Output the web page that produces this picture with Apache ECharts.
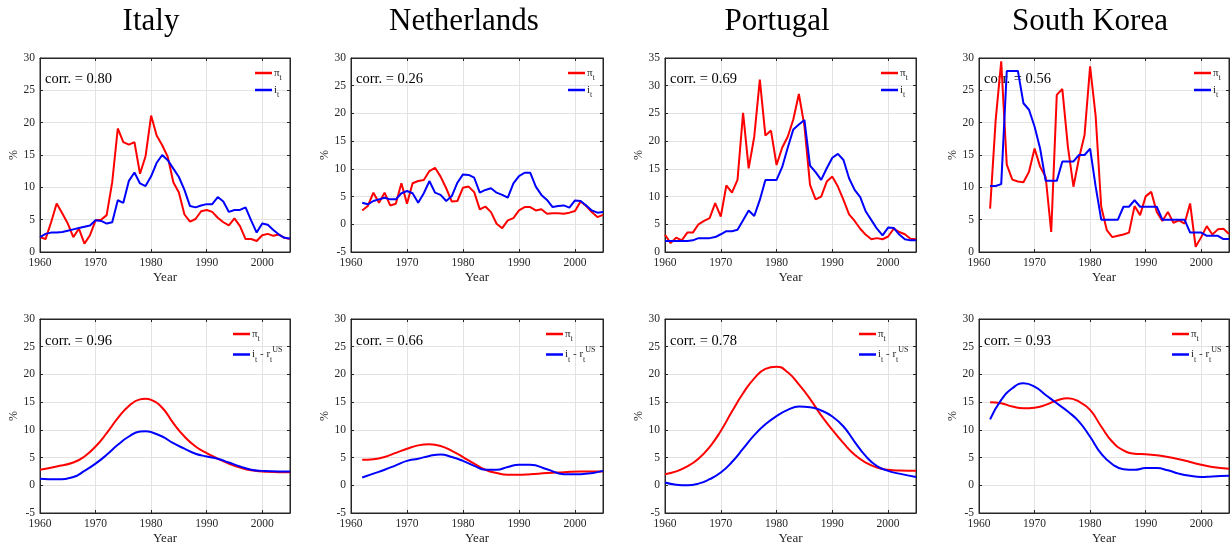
<!DOCTYPE html>
<html>
<head>
<meta charset="utf-8">
<script src="https://cdn.jsdelivr.net/npm/echarts@6/dist/echarts.min.js"></script>
<style>
  html, body { margin: 0; padding: 0; background: #fff; }
  #chart-panel { width: 1230px; height: 546px; }
</style>
</head>
<body>
<div id="chart-panel"></div>
<script>
// countries, one column each
var countries = ['Italy', 'Netherlands', 'Portugal', 'South Korea'];
var corrTop = ['0.80', '0.26', '0.69', '0.56'];
var corrBottom = ['0.96', '0.66', '0.78', '0.93'];
var startYear = [1960, 1962, 1960, 1962];
var topYMin = [0, -5, 0, 0];
var topYMax = [30, 30, 35, 30];

// top row: annual inflation (pi) and nominal rate (i)
var itPi = [2.3, 2.0, 4.6, 7.5, 6.0, 4.4, 2.3, 3.6, 1.3, 2.6,
            4.9, 5.0, 5.7, 10.8, 19.1, 17.0, 16.6, 17.0, 12.1, 14.8,
            21.1, 18.0, 16.5, 14.7, 10.8, 9.2, 5.8, 4.7, 5.1, 6.3,
            6.5, 6.2, 5.3, 4.6, 4.1, 5.2, 4.0, 2.0, 2.0, 1.7,
            2.6, 2.8, 2.5, 2.7, 2.2, 2.0];
var itI = [2.3, 2.8, 3.0, 3.0, 3.1, 3.3, 3.5, 3.7, 3.9, 4.1,
           4.9, 4.8, 4.4, 4.6, 8.0, 7.6, 11.0, 12.3, 10.6, 10.2,
           11.7, 13.8, 15.0, 14.2, 12.9, 11.6, 9.6, 7.1, 6.9, 7.2,
           7.4, 7.4, 8.5, 7.8, 6.2, 6.5, 6.5, 6.9, 4.9, 3.0,
           4.4, 4.2, 3.4, 2.7, 2.2, 2.1];
var nlPi = [2.5, 3.3, 5.7, 3.9, 5.7, 3.4, 3.7, 7.4,
            3.7, 7.4, 7.8, 8.0, 9.6, 10.2, 8.6, 6.5, 4.1, 4.2,
            6.6, 6.8, 5.8, 2.7, 3.2, 2.2, 0.1, -0.7, 0.7, 1.1,
            2.5, 3.1, 3.1, 2.5, 2.7, 1.9, 2.0, 2.0, 1.9, 2.1,
            2.4, 4.1, 3.3, 2.2, 1.3, 1.7];
var nlI = [3.9, 3.6, 4.2, 4.5, 4.8, 4.5, 4.5, 5.6,
           6.0, 5.6, 3.9, 5.6, 7.8, 5.7, 5.3, 4.2, 5.1, 7.5,
           9.0, 8.9, 8.4, 5.7, 6.2, 6.5, 5.7, 5.3, 4.8, 7.4,
           8.7, 9.3, 9.3, 6.8, 5.3, 4.4, 3.1, 3.3, 3.4, 3.0,
           4.3, 4.2, 3.4, 2.5, 2.1, 2.2];
var ptPi = [3.1, 1.6, 2.6, 2.1, 3.5, 3.5, 5.0, 5.6, 6.1, 8.8,
            6.4, 12.0, 10.7, 13.0, 25.1, 15.1, 20.8, 31.1, 21.0, 21.9,
            15.7, 18.8, 20.8, 23.9, 28.5, 22.7, 12.1, 9.5, 10.0, 12.7,
            13.6, 11.8, 9.4, 6.8, 5.6, 4.2, 3.1, 2.3, 2.5, 2.3,
            2.8, 4.2, 3.6, 3.2, 2.4, 2.3];
var ptI = [2.0, 2.0, 2.0, 2.0, 2.0, 2.1, 2.5, 2.5, 2.5, 2.7,
           3.2, 3.75, 3.75, 4.0, 5.75, 7.5, 6.5, 9.4, 13.0, 13.0,
           13.0, 15.3, 18.8, 22.1, 23.0, 23.8, 15.6, 14.4, 13.0, 15.1,
           17.0, 17.7, 16.6, 13.3, 11.2, 9.9, 7.3, 5.75, 4.2, 3.0,
           4.4, 4.35, 3.15, 2.3, 2.1, 2.1];
var krPi = [6.7, 20.4, 29.5, 13.5, 11.2, 10.9, 10.8, 12.4,
            16.0, 13.2, 11.6, 3.1, 24.3, 25.2, 16.3, 10.1, 14.5, 18.1,
            28.7, 21.0, 7.0, 3.4, 2.3, 2.5, 2.7, 3.0, 7.1, 5.7,
            8.6, 9.3, 6.2, 4.8, 6.2, 4.5, 4.9, 4.4, 7.5, 0.8,
            2.3, 4.0, 2.7, 3.5, 3.6, 2.8];
var krI = [10.2, 10.2, 10.5, 28.0, 28.0, 28.0, 23.0, 22.0,
           19.4, 16.0, 11.0, 11.0, 11.0, 14.0, 14.0, 14.0, 15.0, 15.0,
           16.0, 10.1, 5.0, 5.0, 5.0, 5.0, 7.0, 7.0, 8.0, 7.0,
           7.0, 7.0, 7.0, 5.0, 5.0, 5.0, 5.0, 5.0, 3.0, 3.0,
           3.0, 2.5, 2.5, 2.5, 2.0, 2.0];

// bottom row: smoothed trends, read at selected years
var itTrendYears = [1960, 1963, 1966, 1968, 1970, 1972, 1974, 1976, 1978, 1979, 1980, 1982, 1984, 1986, 1988, 1990, 1992, 1994, 1996, 1998, 2000, 2003, 2005];
var itTrendPi = [2.8, 3.4, 4.1, 5.2, 7.0, 9.4, 12.1, 14.3, 15.5, 15.6, 15.4, 14.0, 11.2, 8.8, 7.0, 5.8, 4.8, 3.9, 3.2, 2.7, 2.5, 2.35, 2.35];
var itTrendI = [1.2, 1.1, 1.5, 2.6, 3.9, 5.5, 7.3, 8.8, 9.7, 9.75, 9.6, 8.8, 7.6, 6.6, 5.7, 5.2, 4.8, 4.1, 3.4, 2.8, 2.6, 2.5, 2.5];

var nlTrendYears = [1962, 1964, 1966, 1968, 1970, 1972, 1974, 1976, 1978, 1980, 1982, 1984, 1986, 1988, 1990, 1992, 1995, 1998, 2001, 2005];
var nlTrendPi = [4.6, 4.7, 5.1, 5.85, 6.6, 7.2, 7.4, 7.1, 6.2, 5.1, 3.9, 2.8, 2.2, 1.9, 1.9, 2.0, 2.2, 2.35, 2.5, 2.5];
var nlTrendI = [1.4, 2.1, 2.8, 3.6, 4.4, 4.8, 5.3, 5.55, 5.1, 4.4, 3.5, 2.8, 2.8, 3.3, 3.7, 3.7, 2.9, 2.0, 2.0, 2.6];

var ptTrendYears = [1960, 1962, 1964, 1966, 1968, 1970, 1972, 1974, 1976, 1978, 1980, 1982, 1984, 1986, 1988, 1990, 1992, 1994, 1996, 1998, 2000, 2002, 2005];
var ptTrendPi = [2.0, 2.5, 3.4, 4.8, 6.9, 9.8, 13.3, 16.6, 19.3, 21.0, 21.4, 20.4, 18.2, 15.6, 12.6, 10.0, 7.6, 5.5, 4.1, 3.2, 2.8, 2.65, 2.6];
var ptTrendI = [0.5, 0.1, 0.0, 0.3, 1.1, 2.3, 4.2, 6.6, 9.05, 11.0, 12.5, 13.6, 14.2, 14.1, 13.5, 12.4, 10.6, 7.85, 5.25, 3.45, 2.6, 2.1, 1.5];

var krTrendYears = [1962, 1964, 1966, 1968, 1970, 1972, 1974, 1976, 1978, 1980, 1982, 1984, 1986, 1988, 1990, 1992, 1994, 1996, 1998, 2000, 2002, 2005];
var krTrendPi = [15.0, 14.8, 14.2, 13.9, 14.0, 14.5, 15.3, 15.7, 15.1, 13.6, 10.6, 7.85, 6.3, 5.7, 5.6, 5.4, 5.1, 4.7, 4.2, 3.7, 3.3, 3.0];
var krTrendI = [11.9, 15.4, 17.5, 18.4, 17.8, 16.3, 14.8, 13.3, 11.5, 8.75, 5.7, 3.8, 2.9, 2.8, 3.1, 3.1, 2.7, 2.1, 1.7, 1.5, 1.6, 1.7];

var topPi = [itPi, nlPi, ptPi, krPi];
var topI = [itI, nlI, ptI, krI];
var trendYears = [itTrendYears, nlTrendYears, ptTrendYears, krTrendYears];
var trendPi = [itTrendPi, nlTrendPi, ptTrendPi, krTrendPi];
var trendI = [itTrendI, nlTrendI, ptTrendI, krTrendI];

// layout
var gridLeft = [40, 351, 665, 979];
var gridWidth = [250, 252, 251, 250];
var titleX = [151, 464, 777, 1090];
var rowTop = [58, 319];
var rowHeight = 194;

var serif = '"Liberation Serif", "DejaVu Serif", serif';
var ink = '#262626';
var red = '#ff0000';
var blue = '#0000ff';

function annual(start, values) {
    return values.map(function (v, k) { return [start + k, v]; });
}
function paired(years, values) {
    return values.map(function (v, k) { return [years[k], v]; });
}

var legendLabels = {};
var grids = [], xAxes = [], yAxes = [], boxX = [], boxY = [];
var series = [], legends = [], graphics = [];

for (var r = 0; r < 2; r++) {
    for (var c = 0; c < 4; c++) {
        var g = r * 4 + c;
        var ymin = r === 0 ? topYMin[c] : -5;
        var ymax = r === 0 ? topYMax[c] : 30;
        grids.push({
            left: gridLeft[c], top: rowTop[r], width: gridWidth[c], height: rowHeight,
            show: true, borderColor: ink, borderWidth: 1, backgroundColor: 'transparent'
        });
        xAxes.push({
            type: 'value', gridIndex: g, min: 1960, max: 2005, interval: 10,
            name: 'Year', nameLocation: 'middle', nameGap: 19,
            nameTextStyle: { fontFamily: serif, fontSize: 13, color: ink },
            axisLine: { show: true, onZero: false, lineStyle: { color: ink, width: 1 } },
            axisTick: { show: true, inside: true, length: 3, lineStyle: { color: ink } },
            axisLabel: {
                color: ink, fontFamily: serif, fontSize: 11.5, margin: 5, showMaxLabel: false,
                formatter: function (v) { return String(v); }
            },
            splitLine: { show: true, lineStyle: { color: '#e3e3e3', width: 1 } }
        });
        yAxes.push({
            type: 'value', gridIndex: g, min: ymin, max: ymax, interval: 5,
            name: '%', nameLocation: 'middle', nameGap: 17, nameRotate: 90,
            nameTextStyle: { fontFamily: serif, fontSize: 12, color: ink },
            axisLine: { show: true, lineStyle: { color: ink, width: 1 } },
            axisTick: { show: true, inside: true, length: 3, lineStyle: { color: ink } },
            axisLabel: { color: ink, fontFamily: serif, fontSize: 11.5, margin: 5 },
            splitLine: { show: true, lineStyle: { color: '#e3e3e3', width: 1 } }
        });
        // top and right edges of the box, ticks only
        boxX.push({
            type: 'value', gridIndex: g, position: 'top', min: 1960, max: 2005, interval: 10,
            axisLine: { show: true, onZero: false, lineStyle: { color: ink, width: 1 } },
            axisTick: { show: true, inside: true, length: 3, lineStyle: { color: ink } },
            axisLabel: { show: false }, splitLine: { show: false }
        });
        boxY.push({
            type: 'value', gridIndex: g, position: 'right', min: ymin, max: ymax, interval: 5,
            axisLine: { show: true, onZero: false, lineStyle: { color: ink, width: 1 } },
            axisTick: { show: true, inside: true, length: 3, lineStyle: { color: ink } },
            axisLabel: { show: false }, splitLine: { show: false }
        });

        var nPi = countries[c] + (r === 0 ? ' pi' : ' pi trend');
        var nI = countries[c] + (r === 0 ? ' i' : ' i trend');
        legendLabels[nPi] = '{m|\u03c0}{s|t}';
        legendLabels[nI] = r === 0 ? '{m|i}{s|t}' : '{m|i}{s|t}{m| - r}{s|t}{p|US}';

        series.push({
            name: nPi, type: 'line', xAxisIndex: g, yAxisIndex: g,
            data: r === 0 ? annual(startYear[c], topPi[c]) : paired(trendYears[c], trendPi[c]),
            smooth: r === 1, symbol: 'none', color: red,
            lineStyle: { color: red, width: 2 }, z: 3
        });
        series.push({
            name: nI, type: 'line', xAxisIndex: g, yAxisIndex: g,
            data: r === 0 ? annual(startYear[c], topI[c]) : paired(trendYears[c], trendI[c]),
            smooth: r === 1, symbol: 'none', color: blue,
            lineStyle: { color: blue, width: 2 }, z: 3
        });

        var plotRight = gridLeft[c] + gridWidth[c];
        legends.push({
            data: [nPi, nI], orient: 'vertical',
            left: plotRight - (r === 0 ? 35 : 57), top: rowTop[r] + 9.5,
            icon: 'rect', itemWidth: 17, itemHeight: 2.5, itemGap: 2.5, padding: 0,
            selectedMode: false,
            formatter: function (name) { return legendLabels[name]; },
            textStyle: {
                color: ink, fontFamily: serif, padding: [0, 0, 0, -3],
                rich: {
                    m: { fontSize: 11, fontFamily: serif, color: ink, lineHeight: 18, verticalAlign: 'middle' },
                    s: { fontSize: 8, fontFamily: serif, color: ink, lineHeight: 18, verticalAlign: 'bottom' },
                    p: { fontSize: 8, fontFamily: serif, color: ink, lineHeight: 18, verticalAlign: 'top' }
                }
            }
        });

        graphics.push({
            type: 'text', z: 1,
            x: gridLeft[c] + 5, y: rowTop[r] + (r === 0 ? 21 : 22),
            style: {
                text: 'corr. = ' + (r === 0 ? corrTop[c] : corrBottom[c]),
                font: '14.5px ' + serif, fill: '#000',
                textAlign: 'left', textVerticalAlign: 'middle'
            }
        });
    }
}

for (var c2 = 0; c2 < 4; c2++) {
    graphics.push({
        type: 'text',
        x: titleX[c2], y: 22,
        style: {
            text: countries[c2], font: '31px ' + serif, fill: '#000',
            textAlign: 'center', textVerticalAlign: 'middle'
        }
    });
}

var myChart = echarts.init(document.getElementById('chart-panel'));
var option = {
    animation: false,
    backgroundColor: '#fff',
    grid: grids,
    xAxis: xAxes.concat(boxX),
    yAxis: yAxes.concat(boxY),
    legend: legends,
    graphic: graphics,
    series: series
};
myChart.setOption(option);
</script>
</body>
</html>
